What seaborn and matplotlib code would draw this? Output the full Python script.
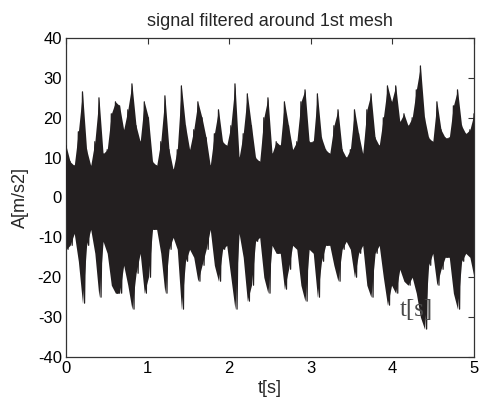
import numpy as np
import pandas as pd
import matplotlib
matplotlib.use("Agg")
import matplotlib.pyplot as plt
import seaborn as sns

# Envelope of the filtered signal, one value per 0.05 s column
upper = [13, 9, 8, 16.5, 26.5, 12, 8, 14, 25, 11,
         12, 21, 24, 23, 17, 22, 28.5, 18, 14, 24,
         20, 9, 8, 14, 25.5, 12, 7, 12, 28, 18,
         12, 17, 24, 20, 15, 8, 16, 22, 14, 13,
         18, 28.5, 10, 16, 26, 18, 10, 9, 20, 25,
         11, 14, 13, 24, 18, 12, 14, 24, 27, 14,
         14, 26, 15, 12, 11, 18, 22, 12, 10, 12,
         22, 16, 11, 22, 26, 15, 13, 20, 28, 24,
         28, 19, 21, 18, 20, 27, 33, 20, 15, 14,
         24, 17, 15, 15, 23, 27, 18, 16, 17, 21]
lower = [-13, -12, -9, -16, -26.5, -12, -8, -14, -25, -11,
         -14, -22, -24, -24, -17, -22, -28, -19, -14, -24,
         -20, -8, -8, -14, -24, -13, -10, -13, -28, -16,
         -13, -15, -21, -17, -13, -8, -17, -21, -13, -12,
         -20, -28, -9, -15, -26, -22, -11, -10, -20, -24,
         -12, -14, -14, -23, -18, -12, -13, -22, -26, -13,
         -14, -25, -16, -12, -12, -17, -21, -13, -11, -13,
         -20, -14, -12, -22, -25, -14, -12, -20, -27, -22,
         -24, -18, -21, -22, -20, -24, -30, -33, -17, -14,
         -22, -18, -15, -15, -24, -28, -16, -14, -15, -20]
t_start, t_end = 0.0, 5.0
x_ticks = [0, 1, 2, 3, 4, 5]
y_ticks = [-40, -30, -20, -10, 0, 10, 20, 30, 40]

sig_color = "#231f20"

sns.set_theme(style="white")
plt.rcParams['font.family'] = ['Liberation Sans', 'DejaVu Sans']
plt.rcParams['axes.unicode_minus'] = False

n = len(upper)
t = np.linspace(t_start, t_end, n)
half = (t[1] - t[0]) / 2
zig_t = np.column_stack([t, t + half]).ravel()
zig_a = np.column_stack([upper, lower]).ravel()
df = pd.DataFrame({"t": zig_t, "A": zig_a})

fig = plt.figure(figsize=(4.82, 3.97), dpi=100)
ax = fig.add_axes([66 / 482, 1 - 357 / 397, (474 - 66) / 482, (357 - 38) / 397])

ax.fill_between(t, lower, upper, color=sig_color, lw=0, zorder=2)
sns.lineplot(data=df, x="t", y="A", ax=ax, color=sig_color, lw=0.9,
             sort=False, estimator=None, zorder=3)

ax.text(4.29, -28.3, "t[s]", family=["Liberation Serif", "DejaVu Serif"],
        fontsize=18, color="#4a4a4a", ha="center", va="center", zorder=4)

ax.set_xlim(t_start, t_end)
ax.set_ylim(-40, 40)
ax.set_xticks(x_ticks)
ax.set_yticks(y_ticks)
ax.tick_params(direction="in", top=True, right=True, length=4, width=0.8,
               labelsize=12, colors="#333333", labelcolor="black")
ax.tick_params(axis="x", pad=3)
ax.tick_params(axis="y", pad=3)
for s in ax.spines.values():
    s.set_color("#333333")
    s.set_linewidth(0.9)

ax.set_title("signal filtered around 1st mesh", fontsize=13, pad=9)
ax.set_xlabel("t[s]", fontsize=13, labelpad=3)
ax.set_ylabel("A[m/s2]", fontsize=13, labelpad=6)

fig.savefig("out.png", dpi=100)
